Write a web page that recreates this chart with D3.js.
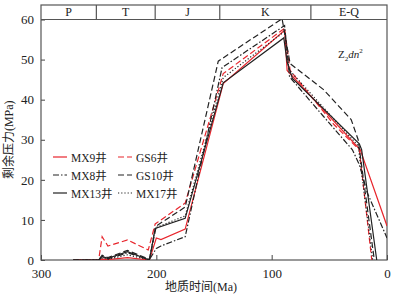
<!DOCTYPE html>
<html>
<head>
<meta charset="utf-8">
<script src="https://cdn.jsdelivr.net/npm/d3@7"></script>
<style>
  body { margin: 0; background: #fff; }
  text { font-family: "Liberation Serif", "Noto Sans CJK SC", serif; fill: #222; }
</style>
</head>
<body>
<svg id="chart" width="393" height="297"></svg>
<script>
// geological periods (boundary ages, Ma)
const periods = ['P', 'T', 'J', 'K', 'E-Q'];
const periodBounds = [300, 252, 201, 145, 66, 0];

const xTicks = [300, 200, 100, 0];
const yTicks = [0, 10, 20, 30, 40, 50, 60];

// residual pressure (MPa) vs age (Ma)
const mx9 = [[272, 0], [250, 0], [247, 0.2], [242, 0.1], [225, 0.6], [206, 0], [200, 5.5], [196, 5.1], [175, 7.7], [142, 44], [88.8, 57.3], [86.6, 47.3], [23.2, 27.5], [0, 8.5]];
const gs6 = [[270, 0], [250, 0], [247, 5.8], [242, 3.5], [225, 5], [207, 2.5], [201, 9], [175, 14.2], [142, 46.5], [88.8, 57.8], [84, 47.3], [46, 33.8], [24, 27.5], [13.2, 0]];
const mx8 = [[272, 0], [250, 0], [247, 0.7], [242, 0.3], [225, 1.8], [206, 0.1], [200, 2.9], [196, 3.5], [175, 5.8], [143, 48], [88.8, 58.5], [84.5, 45.7], [55, 35.8], [30, 27.5], [24, 23.8], [17, 16.7], [0, 5.5]];
const gs10 = [[272, 0], [250, 0], [247, 1.2], [242, 0.6], [225, 2.4], [206, 0.2], [200, 8.5], [175, 13.2], [146.3, 49.6], [91, 60.2], [84, 49], [55, 42.5], [31, 35], [25, 30], [11, 0]];
const mx13 = [[272, 0], [250, 0], [247, 0.9], [242, 0.4], [225, 2.1], [206, 0], [201, 7.9], [175, 10.4], [142, 44.2], [89.5, 55.4], [86.6, 49.4], [82, 45.3], [24, 29], [22, 27.5], [8.9, 0]];
const mx17 = [[272, 0], [250, 0], [247, 0.5], [242, 0.2], [225, 1.3], [206, 0], [201, 8], [175, 11], [142, 45.5], [88.8, 57], [85, 47.5], [25, 28.5], [12.4, 0]];

const series = [
  { name: 'MX9井', data: mx9, color: '#e8262d', dash: null },
  { name: 'GS6井', data: gs6, color: '#e8262d', dash: '6,3' },
  { name: 'MX8井', data: mx8, color: '#222', dash: '6,2,1.5,2' },
  { name: 'GS10井', data: gs10, color: '#222', dash: '6,3' },
  { name: 'MX13井', data: mx13, color: '#222', dash: null },
  { name: 'MX17井', data: mx17, color: '#222', dash: '1.2,2' }
];

const svg = d3.select('#chart');
const plotLeft = 41, plotRight = 387, plotTop = 19.5, plotBottom = 260, headerTop = 5;

const x = d3.scaleLinear().domain([300, 0]).range([plotLeft, plotRight]);
const y = d3.scaleLinear().domain([0, 60]).range([plotBottom, plotTop]);

// clip so lines stay in the frame
svg.append('clipPath').attr('id', 'clip')
  .append('rect').attr('x', plotLeft).attr('y', plotTop)
  .attr('width', plotRight - plotLeft).attr('height', plotBottom - plotTop);

// axes (ticks pointing inside)
const xAxis = d3.axisBottom(x).tickValues(xTicks).tickSize(-5).tickPadding(9);
const yAxis = d3.axisLeft(y).tickValues(yTicks).tickSize(-4).tickPadding(7);

const gx = svg.append('g').attr('transform', `translate(0,${plotBottom})`).call(xAxis);
const gy = svg.append('g').attr('transform', `translate(${plotLeft},0)`).call(yAxis);
[gx, gy].forEach(g => {
  g.select('.domain').remove();
  g.selectAll('line').attr('stroke', '#444');
  g.selectAll('text').style('font-size', '13px').attr('fill', '#222');
});

// frame
svg.append('rect')
  .attr('x', plotLeft).attr('y', headerTop)
  .attr('width', plotRight - plotLeft).attr('height', plotBottom - headerTop)
  .attr('fill', 'none').attr('stroke', '#555').attr('stroke-width', 1.2);
svg.append('line')
  .attr('x1', plotLeft).attr('x2', plotRight).attr('y1', plotTop).attr('y2', plotTop)
  .attr('stroke', '#555').attr('stroke-width', 1.2);

// period header
periods.forEach((p, i) => {
  const a = periodBounds[i], b = periodBounds[i + 1];
  if (i > 0) {
    svg.append('line').attr('x1', x(a)).attr('x2', x(a)).attr('y1', headerTop).attr('y2', plotTop)
      .attr('stroke', '#555').attr('stroke-width', 1.2);
  }
  svg.append('text')
    .attr('x', (x(a) + x(b)) / 2).attr('y', plotTop - 3.5)
    .attr('text-anchor', 'middle').style('font-size', '12px')
    .text(p);
});

// lines
const line = d3.line().x(d => x(d[0])).y(d => y(d[1]));
svg.append('g').attr('clip-path', 'url(#clip)')
  .selectAll('path').data(series).join('path')
  .attr('d', d => line(d.data))
  .attr('fill', 'none')
  .attr('stroke', d => d.color)
  .attr('stroke-width', 1.2)
  .attr('stroke-dasharray', d => d.dash);

// legend, two columns
const legend = svg.append('g');
series.forEach((s, i) => {
  const col = i % 2, row = Math.floor(i / 2);
  const lx = col === 0 ? 53 : 118;
  const ly = 157 + row * 18;
  legend.append('line')
    .attr('x1', lx).attr('x2', lx + 14).attr('y1', ly).attr('y2', ly)
    .attr('stroke', s.color).attr('stroke-width', 1.2)
    .attr('stroke-dasharray', s.dash);
  legend.append('text')
    .attr('x', lx + 18).attr('y', ly + 4.5)
    .style('font-size', '11.5px')
    .text(s.name);
});

// formation label
const lab = svg.append('text').attr('x', 338).attr('y', 58).style('font-size', '11px');
lab.append('tspan').text('Z');
lab.append('tspan').attr('dy', 3).style('font-size', '7px').text('2');
lab.append('tspan').attr('dy', -3).style('font-style', 'italic').text('dn');
lab.append('tspan').attr('dy', -5).style('font-size', '7px').text('2');

// axis titles
svg.append('text')
  .attr('x', (plotLeft + plotRight) / 2 - 13).attr('y', 291)
  .attr('text-anchor', 'middle').style('font-size', '12px')
  .text('地质时间(Ma)');
svg.append('text')
  .attr('transform', `translate(13,${(plotTop + plotBottom) / 2}) rotate(-90)`)
  .attr('text-anchor', 'middle').style('font-size', '12px')
  .text('剩余压力(MPa)');
</script>
</body>
</html>
